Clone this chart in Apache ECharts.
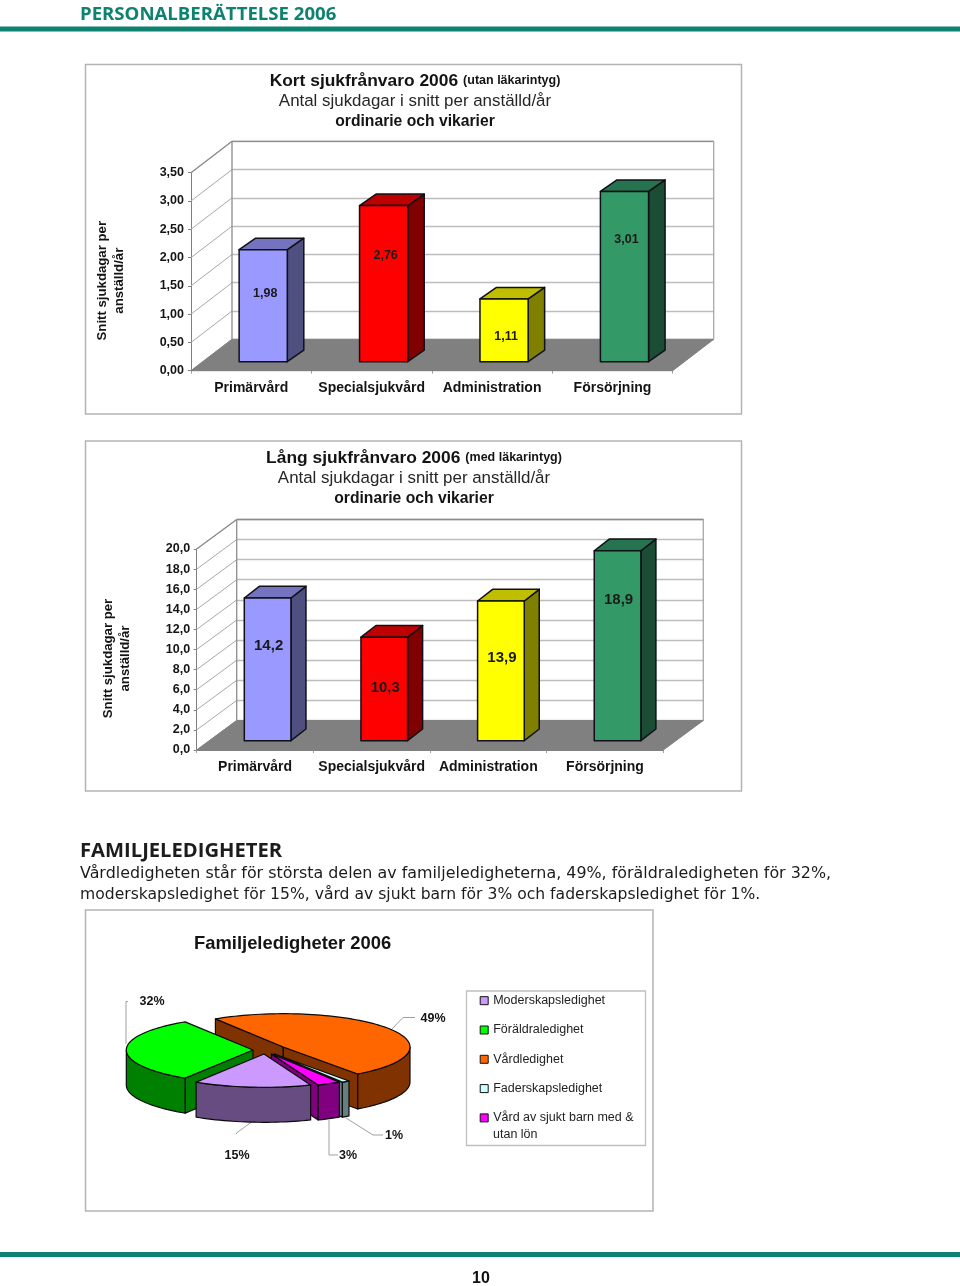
<!DOCTYPE html>
<html><head><meta charset="utf-8">
<style>html,body{margin:0;padding:0;background:#fff}#c{width:960px;height:1286px}</style>
<script src="https://cdn.jsdelivr.net/npm/echarts@6/dist/echarts.min.js"></script>
</head><body><div id="c"></div>
<script>
// ---------- data ----------
const barCategories = ['Primärvård','Specialsjukvård','Administration','Försörjning'];
const kortValues = [1.98,2.76,1.11,3.01];
const langValues = [14.2,10.3,13.9,18.9];
const kortTicks = [0,0.5,1,1.5,2,2.5,3,3.5];
const langTicks = [0,2,4,6,8,10,12,14,16,18,20];
const pieNames = ['Moderskapsledighet','Föräldraledighet','Vårdledighet','Faderskapsledighet','Vård av sjukt barn med & utan lön'];
const pieValues = [15,32,49,1,3];

// ---------- styles ----------
const SANS = '"Liberation Sans", Arial, sans-serif';
const INK = '#141414';
const barColors = [
  {face:'#9999FF',side:'#505080',top:'#7373BF'},
  {face:'#FF0000',side:'#800000',top:'#BF0000'},
  {face:'#FFFF00',side:'#808000',top:'#BFBF00'},
  {face:'#339966',side:'#1A4D33',top:'#267350'}
];
const charts = [
  {front:{left:191,top:172.7,width:481.7,height:198}, back:{left:231.7,top:141.3,width:482.3,height:198},
   values:kortValues, ticks:kortTicks, max:3.5, interval:0.5, digits:2, labelMargin:7,
   depth:[41,-31.4], lift:[12,-9], barDepth:[16.5,-11.5], labelFont:'bold 12.5px '+SANS,
   labelAt:v=>0.884*v-0.38, labelDx:2, labelNudge:[0.5,1,0,-2.5], name:'Kort sjukfrånvaro', nameGap:63},
  {front:{left:196.7,top:549,width:466.6,height:201}, back:{left:236.7,top:519.3,width:467.3,height:201.4},
   values:langValues, ticks:langTicks, max:20, interval:2, digits:1, labelMargin:6.5,
   depth:[40,-29.5], lift:[12.6,-9.3], barDepth:[15,-11.7], labelFont:'bold 15px '+SANS,
   labelAt:v=>1.015*v-4.18, labelDx:1, labelNudge:[-1,1,8,1], name:'Lång sjukfrånvaro', nameGap:63}
];
// pie geometry (elliptical, tilted)
const PIE = {a:126.7, b:33.3, h:35, startDeg:68.4};
const pieStyles = [
  {top:'#CC99FF',side:'#664C80',apex:[264,1054],order:5},
  {top:'#00FF00',side:'#008000',apex:[253,1050],order:2},
  {top:'#FF6600',side:'#803300',apex:[283.3,1047],order:1},
  {top:'#CCFFFF',side:'#668080',apex:[274.5,1054],order:3},
  {top:'#FF00FF',side:'#800080',apex:[271.5,1054],order:4}
];
const pieLabels = [
  {at:[237,1156],line:[[236.5,1134],[236.5,1133],[251.5,1122]]},
  {at:[152,1002],line:[[128,1001.5],[126,1001.5],[126,1044]]},
  {at:[433,1019],line:[[415,1017.5],[403,1017.5],[391,1030]]},
  {at:[394,1136],line:[[383,1135],[373,1135],[346,1118]]},
  {at:[348,1156],line:[[338,1155],[329,1155],[329,1120]]}
];

// ---------- bar chart series ----------
function lineEl(p,q,color,w){return {type:'line',shape:{x1:p[0],y1:p[1],x2:q[0],y2:q[1]},style:{stroke:color,lineWidth:w||1},silent:true};}
function polyEl(points,fill,stroke,w,z2){return {type:'polygon',z2:z2||0,shape:{points:points},style:{fill:fill,stroke:stroke,lineWidth:w===undefined?1.5:w,lineJoin:'round'}};}

function chartSeries(cfg,i){
  const ax = i*2;
  return [
    {type:'custom',xAxisIndex:ax,yAxisIndex:ax,z:1,silent:true,data:cfg.ticks.map(t=>[0,t]),encode:{x:0,y:1},
      renderItem(p,api){
        const y=api.coord([0,api.value(1)])[1],x=p.coordSys.x;
        return lineEl([x,y],[x+cfg.depth[0],y+cfg.depth[1]],'#a8a8a8',1);
      }},
    {type:'custom',xAxisIndex:ax,yAxisIndex:ax,z:1,silent:true,data:[[0,0]],encode:{x:0,y:1},
      renderItem(p,api){
        const s=p.coordSys,d=cfg.depth,b=s.y+s.height,r=s.x+s.width,t=s.y;
        return {type:'group',children:[
          polyEl([[s.x,b],[r,b],[r+d[0],b+d[1]],[s.x+d[0],b+d[1]]],'#808080','#808080',1),
          lineEl([s.x+d[0],t+d[1]],[r+d[0],t+d[1]],'#8c8c8c',1.3),
          lineEl([r+d[0],t+d[1]],[r+d[0],b+d[1]],'#a8a8a8',1.3),
          lineEl([s.x+d[0],t+d[1]],[s.x+d[0],b+d[1]],'#8c8c8c',1.3),
          lineEl([s.x,t],[s.x+d[0],t+d[1]],'#8c8c8c',1.2)
        ]};
      }},
    {type:'custom',name:cfg.name,xAxisIndex:ax,yAxisIndex:ax,z:3,data:cfg.values.map((v,k)=>[k,v]),encode:{x:0,y:1},
      renderItem(p,api){
        const k=api.value(0),v=api.value(1),c=barColors[k];
        const base=api.coord([k,0]),topY=api.coord([k,v])[1]+cfg.lift[1];
        const w=api.size([1,0])[0]*0.4;
        const x0=base[0]-w/2+cfg.lift[0],x1=x0+w,y0=base[1]+cfg.lift[1];
        const d=cfg.barDepth;
        const lab=api.coord([k,cfg.labelAt(v)]);
        return {type:'group',children:[
          polyEl([[x1,topY],[x1+d[0],topY+d[1]],[x1+d[0],y0+d[1]],[x1,y0]],c.side,'#101018'),
          polyEl([[x0,topY],[x0+d[0],topY+d[1]],[x1+d[0],topY+d[1]],[x1,topY]],c.top,'#101018'),
          polyEl([[x0,topY],[x1,topY],[x1,y0],[x0,y0]],c.face,'#101018'),
          {type:'text',z2:5,style:{text:v.toFixed(cfg.digits).replace('.',','),x:lab[0]+cfg.lift[0]+cfg.labelDx,y:lab[1]+cfg.labelNudge[k],align:'center',verticalAlign:'middle',font:cfg.labelFont,fill:'#1a1a1a'}}
        ]};
      }}
  ];
}

// ---------- pie series ----------
const pieTotal = pieValues.reduce((a,b)=>a+b,0);
function pt(c,deg,dy){const r=deg*Math.PI/180;return [c[0]+PIE.a*Math.cos(r),c[1]+PIE.b*Math.sin(r)+(dy||0)];}
function arcPts(c,from,to,dy){const out=[];const n=Math.max(2,Math.ceil((to-from)/2));for(let i=0;i<=n;i++)out.push(pt(c,from+(to-from)*i/n,dy));return out;}
const STROKE='#0a0a0a';
function pieSeries(idx){
  const st=pieStyles[idx];
  return {type:'custom',name:pieNames[idx],coordinateSystem:'none',z:3,itemStyle:{color:st.top},
    data:[[pieValues[idx]]],
    renderItem(p,api){
      const before=pieValues.slice(0,idx).reduce((a,b)=>a+b,0);
      const from=PIE.startDeg+before/pieTotal*360;
      const to=from+api.value(0)/pieTotal*360;
      const c=st.apex,h=PIE.h,kids=[],z=st.order*10;
      // radial faces that turn towards the viewer
      [from,to].forEach(t=>{
        const e=pt(c,t);
        const ny=(t===to)?Math.cos(t*Math.PI/180):-Math.cos(t*Math.PI/180);
        if(ny>0) kids.push(polyEl([c,e,[e[0],e[1]+h],[c[0],c[1]+h]],st.side,STROKE,1.2,z));
      });
      // outer wall: the part of the arc on the near half
      for(let k=-1;k<=2;k++){
        const a0=Math.max(from,k*360),a1=Math.min(to,k*360+180);
        if(a1>a0){
          const up=arcPts(c,a0,a1,0),lo=arcPts(c,a0,a1,h).reverse();
          kids.push(polyEl(up.concat(lo),st.side,STROKE,1.2,z+1));
        }
      }
      kids.push(polyEl([c].concat(arcPts(c,from,to,0)),st.top,STROKE,1.2,z+2));
      const L=pieLabels[idx];
      kids.push({type:'polyline',z2:1,shape:{points:L.line},style:{stroke:'#a0a0a0',lineWidth:1,fill:null},silent:true});
      kids.push({type:'text',z2:100,style:{text:api.value(0)+'%',x:L.at[0],y:L.at[1],align:'center',verticalAlign:'middle',font:'bold 12.5px '+SANS,fill:INK}});
      return {type:'group',children:kids};
    }};
}

// ---------- page furniture ----------
function panel(x,y,w,h){return {type:'rect',z:0,silent:true,shape:{x:x,y:y,width:w,height:h},style:{fill:'#fff',stroke:'#b4b4b4',lineWidth:1.5}};}
function txt(text,x,y,font,fill,align){return {type:'text',z:5,silent:true,style:{text:text,x:x,y:y,font:font,fill:fill||INK,align:align||'left',verticalAlign:'middle'}};}
const TEAL='#0E8270';

const titleRich={
  a:{fontFamily:SANS,fontWeight:'bold',fontSize:17.4,color:INK,lineHeight:20.6},
  b:{fontFamily:SANS,fontWeight:'bold',fontSize:12.5,color:INK,lineHeight:20.6},
  c:{fontFamily:SANS,fontWeight:'normal',fontSize:16.9,color:'#262626',lineHeight:20.6},
  d:{fontFamily:SANS,fontWeight:'bold',fontSize:15.7,color:INK,lineHeight:20.6}
};

const axisFont={fontFamily:SANS,fontWeight:'bold',fontSize:12.5,color:INK,padding:[5,0,0,0]};
const xAxes=[],yAxes=[],grids=[];
charts.forEach(cfg=>{
  grids.push(Object.assign({containLabel:false},cfg.front),Object.assign({containLabel:false},cfg.back));
  xAxes.push({type:'category',gridIndex:grids.length-2,data:barCategories,
    axisLine:{lineStyle:{color:'#808080',width:1}},axisTick:{show:true,length:3,alignWithLabel:false,lineStyle:{color:'#a0a0a0'}},
    axisLabel:{margin:10,interval:0,fontFamily:SANS,fontWeight:'bold',fontSize:14,color:INK},splitLine:{show:false}});
  xAxes.push({type:'category',gridIndex:grids.length-1,data:barCategories,show:false});
  yAxes.push({type:'value',gridIndex:grids.length-2,min:0,max:cfg.max,interval:cfg.interval,
    name:'Snitt sjukdagar per\nanställd/år',nameLocation:'middle',nameGap:cfg.nameGap,nameRotate:90,
    nameTextStyle:{fontFamily:SANS,fontWeight:'bold',fontSize:13.2,lineHeight:17,color:INK,padding:[0,18,0,0]},
    axisLine:{show:true,lineStyle:{color:'#808080',width:1}},axisTick:{show:true,length:3,lineStyle:{color:'#808080'}},
    axisLabel:Object.assign({margin:cfg.labelMargin,formatter:v=>v.toFixed(cfg.digits).replace('.',',')},axisFont),
    splitLine:{show:false}});
  yAxes.push({type:'value',gridIndex:grids.length-1,min:0,max:cfg.max,interval:cfg.interval,
    axisLine:{show:false},axisTick:{show:false},axisLabel:{show:false},
    splitLine:{show:true,lineStyle:{color:'#bdbdbd',width:1.4}}});
});

const option={
  animation:false,backgroundColor:'#fff',
  grid:grids,xAxis:xAxes,yAxis:yAxes,
  title:[
    {left:415,top:70.5,textAlign:'center',padding:0,text:'{a|Kort sjukfrånvaro 2006} {b|(utan läkarintyg)}\n{c|Antal sjukdagar i snitt per anställd/år}\n{d|ordinarie och vikarier}',textStyle:{rich:titleRich}},
    {left:414,top:447.5,textAlign:'center',padding:0,text:'{a|Lång sjukfrånvaro 2006} {b|(med läkarintyg)}\n{c|Antal sjukdagar i snitt per anställd/år}\n{d|ordinarie och vikarier}',textStyle:{rich:titleRich}},
    {left:194,top:935,padding:0,text:'Familjeledigheter 2006',textStyle:{fontFamily:SANS,fontWeight:'bold',fontSize:18.4,color:INK}}
  ],
  legend:{orient:'vertical',left:479.7,top:993.7,padding:0,itemWidth:8,itemHeight:8,itemGap:15.3,icon:'rect',
    data:pieNames,selectedMode:false,
    formatter:n=>n.split(' utan ')[0],
    itemStyle:{borderColor:'#111',borderWidth:1},
    textStyle:{fontFamily:SANS,fontSize:12.5,color:'#222',lineHeight:14}},
  graphic:{elements:[
    {type:'rect',z:0,silent:true,shape:{x:0,y:26.5,width:960,height:5},style:{fill:TEAL}},
    {type:'rect',z:0,silent:true,shape:{x:0,y:1252,width:960,height:5},style:{fill:TEAL}},
    txt('PERSONALBERÄTTELSE 2006',80,14.5,'bold 18.6px "Open Sans"',TEAL),
    panel(85.5,64.5,656,349.5),panel(85.5,441,656,350),panel(85.5,910,567.5,301),
    txt('FAMILJELEDIGHETER',80,851,'bold 20.2px "Open Sans"','#1c1c1c'),
    txt('Vårdledigheten står för största delen av familjeledigheterna, 49%, föräldraledigheten för 32%,',80,873.5,'15.9px "DejaVu Sans"','#1c1c1c'),
    txt('moderskapsledighet för 15%, vård av sjukt barn för 3% och faderskapsledighet för 1%.',80,894.5,'15.6px "DejaVu Sans"','#1c1c1c'),
    txt('10',481,1278.5,'bold 16px '+SANS,'#111','center'),
    {type:'rect',z:0,silent:true,shape:{x:466.5,y:991,width:179,height:154.5},style:{fill:'#fff',stroke:'#c0c0c0',lineWidth:1.3}},
    txt('utan lön',493,1134.5,'12.5px '+SANS,'#222')
  ]},
  series:[].concat(...charts.map(chartSeries),pieNames.map((n,i)=>pieSeries(i)))
};
const chart=echarts.init(document.getElementById('c'),null,{width:960,height:1286,renderer:'canvas'});
chart.setOption(option);
</script></body></html>
